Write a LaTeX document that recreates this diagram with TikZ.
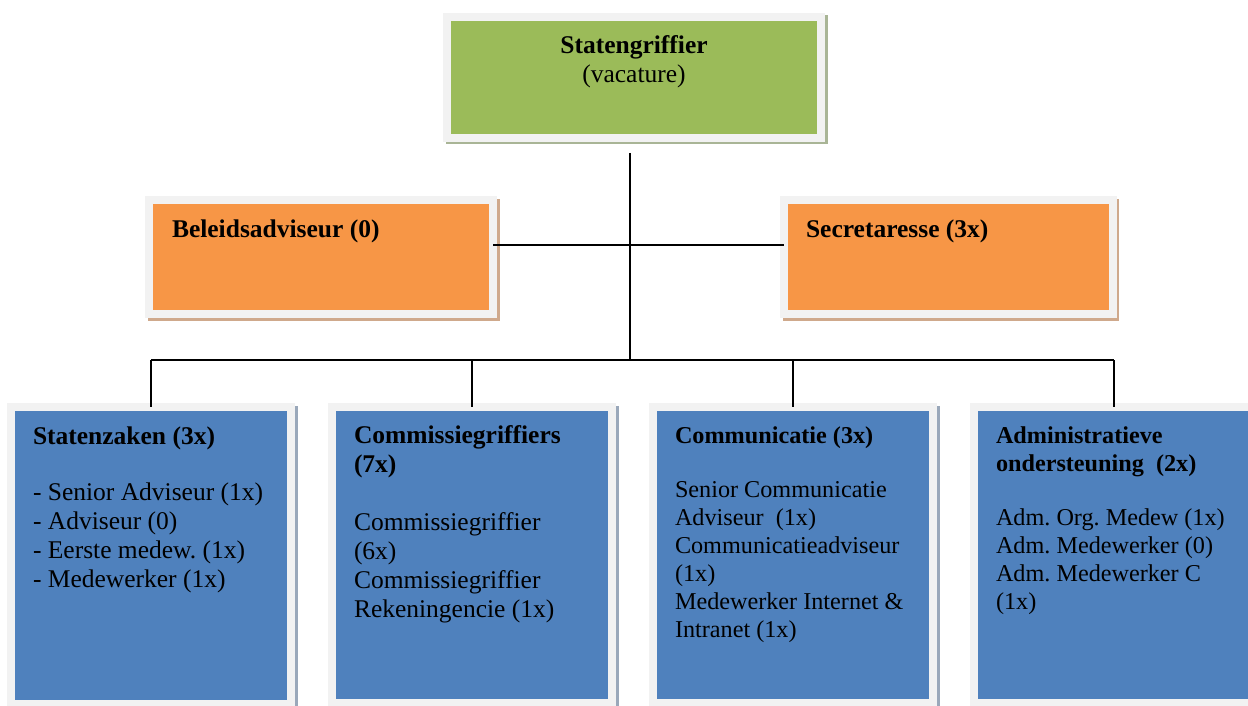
\documentclass[tikz,border=0pt]{standalone}
\usepackage{fontspec}
\setmainfont{Liberation Serif}
\definecolor{sgreen}{HTML}{9BBB59}
\definecolor{sorange}{HTML}{F79646}
\definecolor{sblue}{HTML}{4F81BD}
\definecolor{frame}{HTML}{F2F2F2}
\definecolor{gshade}{HTML}{A9B596}
\definecolor{oshade}{HTML}{CFA98C}
\definecolor{bshade}{HTML}{9AA8BA}
\begin{document}
\begin{tikzpicture}[x=1pt,y=-1pt,
    unit/.style={draw=frame,line width=8pt,fill=#1,anchor=north west,align=flush left,
      outer sep=0pt,inner xsep=22pt,inner ysep=0pt,text height=37.5pt,
      font=\fontsize{25.5}{29}\selectfont\frenchspacing},
    small/.style={font=\fontsize{24.2}{28}\selectfont\frenchspacing},
    shade/.style={preaction={draw=#1,fill=#1,line width=8pt,
      transform canvas={shift={(2.5pt,-2.5pt)}}}},
    link/.style={line width=1.8pt}]
  \useasboundingbox (0,0) rectangle (1248,706);
  \clip (0,0) rectangle (1248,706);

  \node[unit=sgreen,shade=gshade,align=center,inner xsep=4pt,text width=366pt,
    text height=36.5pt,text depth=84.5pt] (sg) at (447,17)
    {\textbf{Statengriffier}\\(vacature)};

  \node[unit=sorange,shade=oshade,inner xsep=23pt,text width=298pt,text depth=76.5pt]
    (ba) at (149,200) {\textbf{Beleidsadviseur (0)}};
  \node[unit=sorange,shade=oshade,text width=284.5pt,text depth=76.5pt]
    (se) at (784,200) {\textbf{Secretaresse (3x)}};

  \node[unit=sblue,shade=bshade,text width=236pt,text depth=259.5pt] (sz) at (11,407)
    {\textbf{Statenzaken (3x)}\\[27pt]
     - Senior Adviseur (1x)\\- Adviseur (0)\\- Eerste medew. (1x)\\- Medewerker (1x)};
  \node[unit=sblue,shade=bshade,text width=236pt,text depth=259.5pt,text height=36pt]
    (cg) at (332,407)
    {\textbf{Commissiegriffiers}\\\textbf{(7x)}\\[29pt]
     Commissiegriffier\\(6x)\\Commissiegriffier\\Rekeningencie (1x)};
  \node[unit=sblue,small,shade=bshade,text width=236pt,text depth=259.5pt,text height=36pt]
    (cm) at (653,407)
    {\textbf{Communicatie (3x)}\\[26pt]
     Senior Communicatie\\Adviseur\ \ (1x)\\Communicatieadviseur\\(1x)\\
     Medewerker Internet \&\\Intranet (1x)};
  \node[unit=sblue,small,shade=bshade,text width=236pt,text depth=259.5pt,text height=36pt]
    (ao) at (974,407)
    {\textbf{Administratieve}\\\textbf{ondersteuning\ \ (2x)}\\[26pt]
     Adm. Org. Medew (1x)\\Adm. Medewerker (0)\\Adm. Medewerker C\\(1x)};

  % connectors
  \coordinate (hub) at (630,360);
  \coordinate (mid) at (630,245);
  \draw[link,shorten <=15pt] (sg.south -| hub) -- (hub);
  \draw[link] (ba.east |- mid) -- (se.west |- mid);
  \draw[link] (sz.north |- hub) -- (ao.north |- hub);
  \foreach \b in {sz,cg,cm,ao}
    \draw[link] (\b.north |- hub) -- (\b.north);
\end{tikzpicture}
\end{document}
